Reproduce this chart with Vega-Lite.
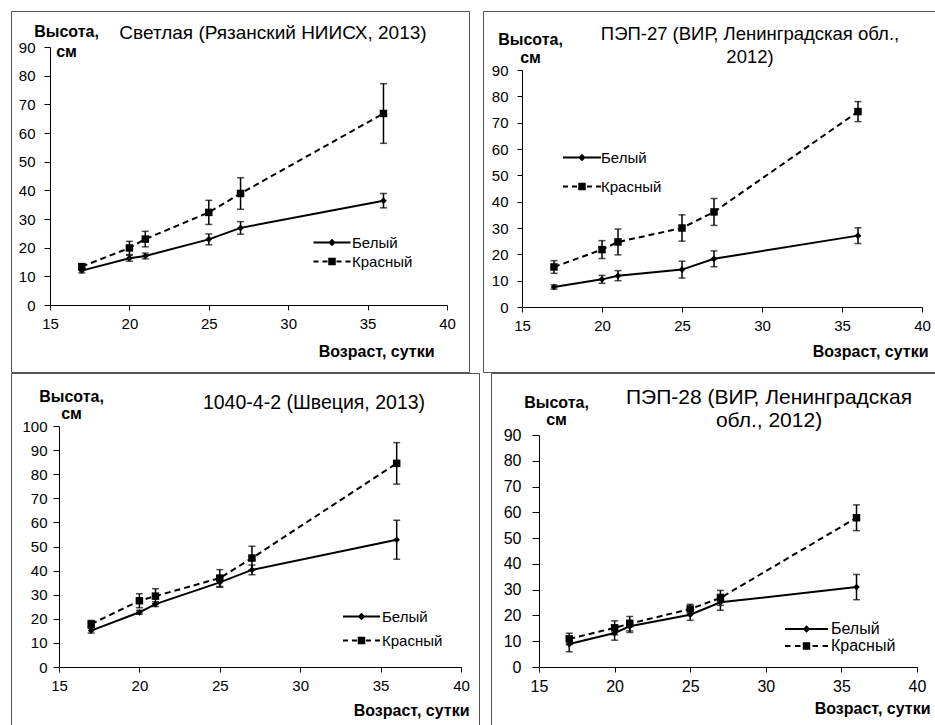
{
  "$schema": "https://vega.github.io/schema/vega-lite/v6.json",
  "background": "white",
  "padding": {"left": 10, "top": 10, "right": 0, "bottom": 0},
  "config": {
    "font": "Liberation Sans",
    "view": {"stroke": "#555", "strokeWidth": 1},
    "axis": {"grid": false, "domainColor": "black", "tickColor": "black", "labelColor": "black", "labelFontSize": 15, "titleFontSize": 16, "titleFontWeight": "bold", "titleColor": "black", "labelFlush": false, "labelOverlap": false, "labelBound": false},
    "legend": {"labelFontSize": 15, "labelColor": "black", "padding": 0, "symbolOpacity": 1, "symbolStrokeWidth": 0, "symbolFillColor": "black", "symbolSize": 100},
    "title": {"color": "black", "fontWeight": "normal", "fontSize": 19, "frame": "group", "anchor": "middle"}
  },
  "resolve": {"scale": {"shape": "independent"}, "legend": {"shape": "independent"}},
  "datasets": {
    "d": [
      {"p":1,"s":"Белый","x":17,"y":12.0,"lo":11.2,"hi":12.8},
      {"p":1,"s":"Белый","x":20,"y":16.3,"lo":15.3,"hi":17.3},
      {"p":1,"s":"Белый","x":21,"y":17.1,"lo":16.1,"hi":18.1},
      {"p":1,"s":"Белый","x":25,"y":22.9,"lo":21.0,"hi":24.8},
      {"p":1,"s":"Белый","x":27,"y":26.9,"lo":24.7,"hi":29.1},
      {"p":1,"s":"Белый","x":36,"y":36.4,"lo":33.9,"hi":38.9},
      {"p":1,"s":"Красный","x":17,"y":13.4,"lo":12.4,"hi":14.4},
      {"p":1,"s":"Красный","x":20,"y":19.9,"lo":17.6,"hi":22.2},
      {"p":1,"s":"Красный","x":21,"y":23.0,"lo":20.3,"hi":25.7},
      {"p":1,"s":"Красный","x":25,"y":32.3,"lo":28.1,"hi":36.5},
      {"p":1,"s":"Красный","x":27,"y":38.9,"lo":33.4,"hi":44.4},
      {"p":1,"s":"Красный","x":36,"y":66.8,"lo":56.4,"hi":77.2},
      {"p":2,"s":"Белый","x":17,"y":7.6,"lo":6.8,"hi":8.4},
      {"p":2,"s":"Белый","x":20,"y":10.5,"lo":9.0,"hi":12.0},
      {"p":2,"s":"Белый","x":21,"y":11.9,"lo":10.0,"hi":13.8},
      {"p":2,"s":"Белый","x":25,"y":14.2,"lo":11.0,"hi":17.4},
      {"p":2,"s":"Белый","x":27,"y":18.3,"lo":15.3,"hi":21.3},
      {"p":2,"s":"Белый","x":36,"y":27.1,"lo":24.1,"hi":30.1},
      {"p":2,"s":"Красный","x":17,"y":15.2,"lo":12.8,"hi":17.6},
      {"p":2,"s":"Красный","x":20,"y":21.8,"lo":18.4,"hi":25.2},
      {"p":2,"s":"Красный","x":21,"y":24.7,"lo":19.8,"hi":29.6},
      {"p":2,"s":"Красный","x":25,"y":30.0,"lo":25.0,"hi":35.0},
      {"p":2,"s":"Красный","x":27,"y":36.1,"lo":31.0,"hi":41.2},
      {"p":2,"s":"Красный","x":36,"y":74.2,"lo":70.4,"hi":78.0},
      {"p":3,"s":"Белый","x":17,"y":15.1,"lo":14.1,"hi":16.1},
      {"p":3,"s":"Белый","x":20,"y":22.7,"lo":21.9,"hi":23.5},
      {"p":3,"s":"Белый","x":21,"y":26.1,"lo":25.1,"hi":27.1},
      {"p":3,"s":"Белый","x":25,"y":35.1,"lo":33.1,"hi":37.1},
      {"p":3,"s":"Белый","x":27,"y":40.3,"lo":38.3,"hi":42.3},
      {"p":3,"s":"Белый","x":36,"y":52.8,"lo":44.7,"hi":60.9},
      {"p":3,"s":"Красный","x":17,"y":17.8,"lo":16.3,"hi":19.3},
      {"p":3,"s":"Красный","x":20,"y":27.5,"lo":24.6,"hi":30.4},
      {"p":3,"s":"Красный","x":21,"y":29.4,"lo":26.3,"hi":32.5},
      {"p":3,"s":"Красный","x":25,"y":36.9,"lo":33.4,"hi":40.4},
      {"p":3,"s":"Красный","x":27,"y":45.2,"lo":40.3,"hi":50.1},
      {"p":3,"s":"Красный","x":36,"y":84.5,"lo":75.9,"hi":93.1},
      {"p":4,"s":"Белый","x":17,"y":8.9,"lo":5.9,"hi":11.9},
      {"p":4,"s":"Белый","x":20,"y":13.2,"lo":10.4,"hi":16.0},
      {"p":4,"s":"Белый","x":21,"y":15.8,"lo":13.4,"hi":18.2},
      {"p":4,"s":"Белый","x":25,"y":20.3,"lo":18.1,"hi":22.5},
      {"p":4,"s":"Белый","x":27,"y":25.1,"lo":22.0,"hi":28.2},
      {"p":4,"s":"Белый","x":36,"y":31.0,"lo":26.1,"hi":35.9},
      {"p":4,"s":"Красный","x":17,"y":10.9,"lo":8.7,"hi":13.1},
      {"p":4,"s":"Красный","x":20,"y":15.2,"lo":12.5,"hi":17.9},
      {"p":4,"s":"Красный","x":21,"y":16.8,"lo":14.0,"hi":19.6},
      {"p":4,"s":"Красный","x":25,"y":22.5,"lo":20.7,"hi":24.3},
      {"p":4,"s":"Красный","x":27,"y":26.8,"lo":23.9,"hi":29.7},
      {"p":4,"s":"Красный","x":36,"y":57.9,"lo":52.9,"hi":62.9}
    ]
  },
  "vconcat": [
    {
      "resolve": {"scale": {"shape": "independent"}, "legend": {"shape": "independent"}},
      "hconcat": [
        {
          "data": {"name": "d"},
          "transform": [{"filter": "datum.p == 1"}],
          "width": 458, "height": 361,
          "title": {"text": "Светлая (Рязанский НИИСХ, 2013)", "offset": -32, "dx": 33},
          "encoding": {
            "x": {"field": "x", "type": "quantitative",
              "scale": {"domain": [15, 40], "range": [39, 436], "nice": false, "zero": false},
              "axis": {"values": [15, 20, 25, 30, 35, 40], "offset": -67, "tickSize": 5, "labelPadding": 6,
                "title": "Возраст, сутки", "titleX": 423, "titleY": 51, "titleAlign": "right", "titleBaseline": "alphabetic", "titleAngle": 0}}
          },
          "layer": [
            {"mark": {"type": "errorbar", "color": "black", "ticks": {"size": 7, "thickness": 1.5}, "rule": {"strokeWidth": 1.5}},
             "encoding": {
               "y": {"field": "lo", "type": "quantitative", "scale": {"domain": [0, 90], "range": [294, 36], "nice": false, "zero": false},
                 "axis": {"values": [0,10,20,30,40,50,60,70,80,90], "tickCount": 11, "offset": -39, "tickSize": 6, "labelPadding": 9,
                   "title": ["Высота,", "см"], "titleX": 16, "titleY": 25, "titleAlign": "center", "titleBaseline": "alphabetic", "titleAngle": 0, "titleLineHeight": 20}},
               "y2": {"field": "hi"}}},
            {"transform": [{"filter": "datum.s == 'Белый'"}], "mark": {"type": "line", "color": "black", "strokeWidth": 2}, "encoding": {"y": {"field": "y", "type": "quantitative"}}},
            {"transform": [{"filter": "datum.s == 'Красный'"}], "mark": {"type": "line", "color": "black", "strokeWidth": 2, "strokeDash": [6, 4]}, "encoding": {"y": {"field": "y", "type": "quantitative"}}},
            {"transform": [{"filter": "datum.s == 'Белый'"}], "mark": {"type": "point", "filled": true, "color": "black", "opacity": 1, "shape": "diamond", "size": 45}, "encoding": {"y": {"field": "y", "type": "quantitative"}}},
            {"transform": [{"filter": "datum.s == 'Красный'"}], "mark": {"type": "point", "filled": true, "color": "black", "opacity": 1, "shape": "square", "size": 56}, "encoding": {"y": {"field": "y", "type": "quantitative"}}},
            {"mark": {"type": "point", "filled": true, "color": "black", "opacity": 0, "size": 100},
             "encoding": {
               "y": {"field": "y", "type": "quantitative"},
               "shape": {"field": "s", "type": "nominal",
                 "scale": {"domain": ["Белый", "Красный"], "range": ["M-3.7,-0.2L3.7,-0.2L3.7,0.2L-3.7,0.2ZM0,-0.75L0.75,0L0,0.75L-0.75,0Z", "M-3.7,-0.2L-2.7,-0.2L-2.7,0.2L-3.7,0.2ZM-1.9,-0.2L-0.9,-0.2L-0.9,0.2L-1.9,0.2ZM0.9,-0.2L1.9,-0.2L1.9,0.2L0.9,0.2ZM2.7,-0.2L3.7,-0.2L3.7,0.2L2.7,0.2ZM-0.75,-0.75L0.75,-0.75L0.75,0.75L-0.75,0.75Z"]},
                 "legend": {"orient": "none", "legendX": 301, "legendY": 224, "title": null, "symbolOffset": 12.5, "labelOffset": 12.5, "rowPadding": 3}}}}
          ]
        },
        {
          "data": {"name": "d"},
          "transform": [{"filter": "datum.p == 2"}],
          "width": 458, "height": 361,
          "title": {"text": ["ПЭП-27 (ВИР, Ленинградская обл.,", "2012)"], "offset": -55, "dx": 38, "lineHeight": 23, "fontSize": 18.5},
          "encoding": {
            "x": {"field": "x", "type": "quantitative",
              "scale": {"domain": [15, 40], "range": [39, 439], "nice": false, "zero": false},
              "axis": {"values": [15, 20, 25, 30, 35, 40], "offset": -65, "tickSize": 5, "labelPadding": 6,
                "title": "Возраст, сутки", "titleX": 445, "titleY": 49, "titleAlign": "right", "titleBaseline": "alphabetic", "titleAngle": 0}}
          },
          "layer": [
            {"mark": {"type": "errorbar", "color": "black", "ticks": {"size": 7, "thickness": 1.5}, "rule": {"strokeWidth": 1.5}},
             "encoding": {
               "y": {"field": "lo", "type": "quantitative", "scale": {"domain": [0, 90], "range": [296, 59], "nice": false, "zero": false},
                 "axis": {"values": [0,10,20,30,40,50,60,70,80,90], "tickCount": 11, "offset": -39, "tickSize": 5, "labelPadding": 9,
                   "title": ["Высота,", "см"], "titleX": 8, "titleY": 33, "titleAlign": "center", "titleBaseline": "alphabetic", "titleAngle": 0, "titleLineHeight": 18}},
               "y2": {"field": "hi"}}},
            {"transform": [{"filter": "datum.s == 'Белый'"}], "mark": {"type": "line", "color": "black", "strokeWidth": 2}, "encoding": {"y": {"field": "y", "type": "quantitative"}}},
            {"transform": [{"filter": "datum.s == 'Красный'"}], "mark": {"type": "line", "color": "black", "strokeWidth": 2, "strokeDash": [6, 4]}, "encoding": {"y": {"field": "y", "type": "quantitative"}}},
            {"transform": [{"filter": "datum.s == 'Белый'"}], "mark": {"type": "point", "filled": true, "color": "black", "opacity": 1, "shape": "diamond", "size": 45}, "encoding": {"y": {"field": "y", "type": "quantitative"}}},
            {"transform": [{"filter": "datum.s == 'Красный'"}], "mark": {"type": "point", "filled": true, "color": "black", "opacity": 1, "shape": "square", "size": 56}, "encoding": {"y": {"field": "y", "type": "quantitative"}}},
            {"mark": {"type": "point", "filled": true, "color": "black", "opacity": 0, "size": 100},
             "encoding": {
               "y": {"field": "y", "type": "quantitative"},
               "shape": {"field": "s", "type": "nominal",
                 "scale": {"domain": ["Белый", "Красный"], "range": ["M-3.8,-0.2L3.8,-0.2L3.8,0.2L-3.8,0.2ZM0,-0.75L0.75,0L0,0.75L-0.75,0Z", "M-3.8,-0.2L-2.8,-0.2L-2.8,0.2L-3.8,0.2ZM-2,-0.2L-1,-0.2L-1,0.2L-2,0.2ZM1,-0.2L2,-0.2L2,0.2L1,0.2ZM2.8,-0.2L3.8,-0.2L3.8,0.2L2.8,0.2ZM-0.75,-0.75L0.75,-0.75L0.75,0.75L-0.75,0.75Z"]},
                 "legend": {"orient": "none", "legendX": 80, "legendY": 139, "title": null, "symbolOffset": 11.5, "labelOffset": 11.5, "rowPadding": 13}}}}
          ]
        }
      ],
      "spacing": 12
    },
    {
      "resolve": {"scale": {"shape": "independent"}, "legend": {"shape": "independent"}},
      "hconcat": [
        {
          "data": {"name": "d"},
          "transform": [{"filter": "datum.p == 3"}],
          "width": 468, "height": 360,
          "title": {"text": "1040-4-2 (Швеция, 2013)", "offset": -40, "dx": 69, "fontSize": 19.5},
          "encoding": {
            "x": {"field": "x", "type": "quantitative",
              "scale": {"domain": [15, 40], "range": [48, 450], "nice": false, "zero": false},
              "axis": {"values": [15, 20, 25, 30, 35, 40], "offset": -66, "tickSize": 5, "labelPadding": 6,
                "title": "Возраст, сутки", "titleX": 458, "titleY": 48, "titleAlign": "right", "titleBaseline": "alphabetic", "titleAngle": 0}}
          },
          "layer": [
            {"mark": {"type": "errorbar", "color": "black", "ticks": {"size": 7, "thickness": 1.5}, "rule": {"strokeWidth": 1.5}},
             "encoding": {
               "y": {"field": "lo", "type": "quantitative", "scale": {"domain": [0, 100], "range": [294, 53], "nice": false, "zero": false},
                 "axis": {"values": [0,10,20,30,40,50,60,70,80,90,100], "tickCount": 12, "offset": -48, "tickSize": 6, "labelPadding": 6,
                   "title": ["Высота,", "см"], "titleX": 12, "titleY": 28, "titleAlign": "center", "titleBaseline": "alphabetic", "titleAngle": 0, "titleLineHeight": 17}},
               "y2": {"field": "hi"}}},
            {"transform": [{"filter": "datum.s == 'Белый'"}], "mark": {"type": "line", "color": "black", "strokeWidth": 2}, "encoding": {"y": {"field": "y", "type": "quantitative"}}},
            {"transform": [{"filter": "datum.s == 'Красный'"}], "mark": {"type": "line", "color": "black", "strokeWidth": 2, "strokeDash": [6, 4]}, "encoding": {"y": {"field": "y", "type": "quantitative"}}},
            {"transform": [{"filter": "datum.s == 'Белый'"}], "mark": {"type": "point", "filled": true, "color": "black", "opacity": 1, "shape": "diamond", "size": 45}, "encoding": {"y": {"field": "y", "type": "quantitative"}}},
            {"transform": [{"filter": "datum.s == 'Красный'"}], "mark": {"type": "point", "filled": true, "color": "black", "opacity": 1, "shape": "square", "size": 56}, "encoding": {"y": {"field": "y", "type": "quantitative"}}},
            {"mark": {"type": "point", "filled": true, "color": "black", "opacity": 0, "size": 100},
             "encoding": {
               "y": {"field": "y", "type": "quantitative"},
               "shape": {"field": "s", "type": "nominal",
                 "scale": {"domain": ["Белый", "Красный"], "range": ["M-3.7,-0.2L3.7,-0.2L3.7,0.2L-3.7,0.2ZM0,-0.75L0.75,0L0,0.75L-0.75,0Z", "M-3.7,-0.2L-2.7,-0.2L-2.7,0.2L-3.7,0.2ZM-1.9,-0.2L-0.9,-0.2L-0.9,0.2L-1.9,0.2ZM0.9,-0.2L1.9,-0.2L1.9,0.2L0.9,0.2ZM2.7,-0.2L3.7,-0.2L3.7,0.2L2.7,0.2ZM-0.75,-0.75L0.75,-0.75L0.75,0.75L-0.75,0.75Z"]},
                 "legend": {"orient": "none", "legendX": 333, "legendY": 236, "title": null, "symbolOffset": 10, "labelOffset": 13, "rowPadding": 8}}}}
          ]
        },
        {
          "data": {"name": "d"},
          "transform": [{"filter": "datum.p == 4"}],
          "width": 458, "height": 360,
          "title": {"text": ["ПЭП-28 (ВИР, Ленинградская", "обл., 2012)"], "offset": -58, "dx": 49, "lineHeight": 23, "fontSize": 21},
          "encoding": {
            "x": {"field": "x", "type": "quantitative",
              "scale": {"domain": [15, 40], "range": [48, 426], "nice": false, "zero": false},
              "axis": {"values": [15, 20, 25, 30, 35, 40], "offset": -66, "tickSize": 5, "labelPadding": 6, "labelFontSize": 16,
                "title": "Возраст, сутки", "titleX": 439, "titleY": 46, "titleAlign": "right", "titleBaseline": "alphabetic", "titleAngle": 0}}
          },
          "layer": [
            {"mark": {"type": "errorbar", "color": "black", "ticks": {"size": 7, "thickness": 1.5}, "rule": {"strokeWidth": 1.5}},
             "encoding": {
               "y": {"field": "lo", "type": "quantitative", "scale": {"domain": [0, 90], "range": [294, 62], "nice": false, "zero": false},
                 "axis": {"values": [0,10,20,30,40,50,60,70,80,90], "tickCount": 11, "offset": -48, "tickSize": 7, "labelPadding": 11, "labelFontSize": 16,
                   "title": ["Высота,", "см"], "titleX": 17, "titleY": 34, "titleAlign": "center", "titleBaseline": "alphabetic", "titleAngle": 0, "titleLineHeight": 17}},
               "y2": {"field": "hi"}}},
            {"transform": [{"filter": "datum.s == 'Белый'"}], "mark": {"type": "line", "color": "black", "strokeWidth": 2}, "encoding": {"y": {"field": "y", "type": "quantitative"}}},
            {"transform": [{"filter": "datum.s == 'Красный'"}], "mark": {"type": "line", "color": "black", "strokeWidth": 2, "strokeDash": [6, 4]}, "encoding": {"y": {"field": "y", "type": "quantitative"}}},
            {"transform": [{"filter": "datum.s == 'Белый'"}], "mark": {"type": "point", "filled": true, "color": "black", "opacity": 1, "shape": "diamond", "size": 45}, "encoding": {"y": {"field": "y", "type": "quantitative"}}},
            {"transform": [{"filter": "datum.s == 'Красный'"}], "mark": {"type": "point", "filled": true, "color": "black", "opacity": 1, "shape": "square", "size": 56}, "encoding": {"y": {"field": "y", "type": "quantitative"}}},
            {"mark": {"type": "point", "filled": true, "color": "black", "opacity": 0, "size": 100},
             "encoding": {
               "y": {"field": "y", "type": "quantitative"},
               "shape": {"field": "s", "type": "nominal",
                 "scale": {"domain": ["Белый", "Красный"], "range": ["M-4.3,-0.2L4.3,-0.2L4.3,0.2L-4.3,0.2ZM0,-0.75L0.75,0L0,0.75L-0.75,0Z", "M-4.3,-0.2L-3.2,-0.2L-3.2,0.2L-4.3,0.2ZM-2.3,-0.2L-1.2,-0.2L-1.2,0.2L-2.3,0.2ZM1.2,-0.2L2.3,-0.2L2.3,0.2L1.2,0.2ZM3.2,-0.2L4.3,-0.2L4.3,0.2L3.2,0.2ZM-0.75,-0.75L0.75,-0.75L0.75,0.75L-0.75,0.75Z"]},
                 "legend": {"orient": "none", "legendX": 297, "legendY": 248, "title": null, "symbolOffset": 10.5, "labelOffset": 16.5, "rowPadding": 1, "labelFontSize": 16}}}}
          ]
        }
      ],
      "spacing": 10
    }
  ],
  "spacing": -2
}
